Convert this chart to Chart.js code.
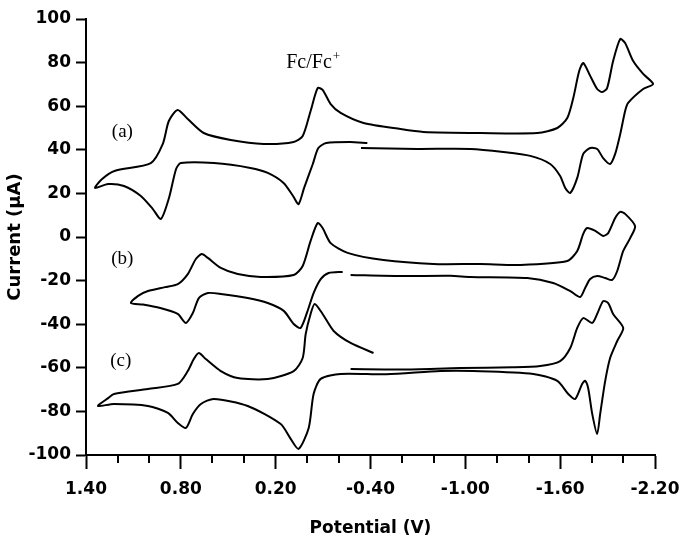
<!DOCTYPE html>
<html lang="en">
<head>
  <meta charset="UTF-8" />
  <title>Cyclic voltammograms</title>
  <script src="https://cdn.jsdelivr.net/npm/chart.js"></script>
  <style>
    html, body {
      margin: 0;
      padding: 0;
      background: #ffffff;
    }
  </style>
</head>
<body>
  <canvas id="cvChart" width="681" height="543"></canvas>

  <script>
    // curve (a): potential (V) and current (uA), in scan order
    const aPotential = [-0.38, -0.27, -0.12, -0.07, -0.035, 0.02, 0.055, 0.09, 0.15, 0.25, 0.36, 0.59, 0.80, 0.83, 0.875, 0.926, 0.977, 1.053, 1.16, 1.26, 1.343,
      1.30, 1.22, 0.99, 0.914, 0.876, 0.82, 0.756, 0.655, 0.484, 0.276, 0.086, 0.029, -0.021, -0.066, -0.097, -0.148, -0.211, -0.356, -0.59, -0.735, -1.095, -1.455, -1.582, -1.645, -1.683, -1.72, -1.746, -1.79, -1.834, -1.866, -1.897, -1.935, -1.98, -2.011, -2.062, -2.125, -2.188,
      -2.125, -2.03, -2.011, -1.98, -1.948, -1.916, -1.872, -1.834, -1.79, -1.746, -1.708, -1.664, -1.632, -1.6, -1.537, -1.411, -1.24, -1.032, -0.697, -0.34];
    const aCurrent = [43.1, 43.6, 43.1, 40.8, 33.5, 22.5, 15.1, 18.8, 24.8, 29.4, 31.7, 33.9, 33.9, 31.2, 17.9, 8.3, 12.8, 18.8, 23.4, 24.3, 22.5,
      26.5, 30.3, 33.9, 42.7, 53.2, 58.3, 54.1, 47.7, 44.5, 42.7, 43.6, 46.3, 57.8, 68.3, 67.5, 61, 56.9, 52.3, 49.5, 48.2, 47.7, 47.7, 50, 54.6, 63.8, 76, 79.8, 73.9, 67.9, 66.5, 68.3, 80.7, 90.8, 89, 80.7, 74.8, 70.2,
      67.9, 61.5, 57.8, 47.2, 38.1, 33.5, 36.2, 40.4, 40.8, 38.1, 27.1, 20.2, 22.5, 28, 33.5, 37.2, 39, 40.4, 40.4, 40.8];

    // curve (b)
    const bPotential = [-0.224, -0.135, -0.085, -0.04, -0.002, 0.042, 0.086, 0.149, 0.25, 0.377, 0.547, 0.629, 0.686, 0.724, 0.768, 0.82, 0.93, 1.04, 1.116,
      1.07, 1.008, 0.90, 0.819, 0.756, 0.705, 0.667, 0.629, 0.547, 0.44, 0.295, 0.086, 0.029, -0.021, -0.066, -0.097, -0.148, -0.255, -0.482, -0.798, -1.095, -1.348, -1.645, -1.708, -1.746, -1.771, -1.822, -1.872, -1.904, -1.948, -1.98, -2.011, -2.074,
      -2.043, -1.999, -1.961, -1.929, -1.885, -1.834, -1.79, -1.758, -1.727, -1.664, -1.556, -1.392, -1.032, -0.906, -0.59, -0.274];
    const bCurrent = [-16, -16.5, -19.3, -25.7, -33.9, -41.7, -39.9, -33.9, -30.3, -28, -26.1, -25.7, -28, -34.9, -39.4, -35.3, -32.6, -31, -30.3,
      -27, -24.8, -23, -21.6, -17, -10.1, -7.8, -9.6, -14.2, -17, -18.3, -17.4, -13.3, -1.8, 6.4, 4.1, -2.8, -7.3, -10.6, -12.4, -12.4, -12.8, -11, -6.4, 1.4, 4.1, 2.8, 0.5, 1.8, 8.7, 11.5, 10.6, 5,
      -0.5, -6.4, -15.6, -19.7, -18.8, -17.9, -19.3, -23.4, -27.5, -24.8, -21.1, -18.8, -18.3, -17.8, -17.9, -17.4];

    // curve (c)
    const cPotential = [-0.274, -0.6, -0.969, -1.3, -1.474, -1.6, -1.664, -1.708, -1.746, -1.803, -1.834, -1.872, -1.904, -1.935, -1.999,
      -1.961, -1.916, -1.885, -1.853, -1.834, -1.803, -1.777, -1.758, -1.739, -1.695, -1.651, -1.582, -1.43, -1.051, -0.843, -0.5, -0.211, -0.085, -0.04, -0.009, 0.055, 0.11, 0.168, 0.377, 0.591, 0.673, 0.724, 0.768, 0.819, 0.882, 1.008, 1.223, 1.324,
      1.26, 1.223, 1.008, 0.819, 0.756, 0.718, 0.686, 0.642, 0.547, 0.44, 0.25, 0.086, 0.029, 0.01, -0.021, -0.047, -0.097, -0.167, -0.274, -0.419];
    const cCurrent = [-60.6, -60.8, -60.1, -59.8, -59.2, -56.9, -50.9, -41.7, -37.2, -39.4, -35.3, -29.4, -30.3, -35.3, -41.7,
      -47.7, -55.5, -66, -81.2, -90.4, -81.2, -69.3, -66, -67.4, -74.3, -72, -66, -62.8, -61.5, -61.5, -63, -62.8, -65.1, -72, -87.6, -97.2, -92, -85.8, -77.5, -74.3, -76.6, -81.2, -87.6, -85.3, -80.7, -77.5, -76.6, -77.5,
      -73.9, -72, -69.7, -67.4, -61.5, -56, -53.2, -56, -61.5, -64.7, -65.1, -61.5, -55.5, -44.5, -35.3, -30.7, -35.3, -43.1, -48.6, -53.2];

    const xTickLabels = [1.40, 0.80, 0.20, -0.40, -1.00, -1.60, -2.20];

    const curveNames = ['(a)', '(b)', '(c)'];
    const curveNamePotential = [1.17, 1.17, 1.18];
    const curveNameCurrent = [48, -10, -57];

    const toPoints = (xs, ys) => xs.map((x, i) => ({ x, y: ys[i] }));
    const isMajor = v => xTickLabels.some(t => Math.abs(t - v) < 1e-6);

    // minor ticks on the x axis and the text labels
    const extras = {
      id: 'extras',
      afterDraw(chart) {
        const ctx = chart.ctx;
        const xs = chart.scales.x;
        const ys = chart.scales.y;
        ctx.save();
        ctx.strokeStyle = '#000';
        ctx.lineWidth = 2;
        xs.ticks.forEach(t => {
          if (isMajor(t.value)) return;
          const px = Math.round(xs.getPixelForValue(t.value));
          ctx.beginPath();
          ctx.moveTo(px, xs.top);
          ctx.lineTo(px, xs.top + 8);
          ctx.stroke();
        });

        ctx.fillStyle = '#000';
        ctx.font = '19px "Liberation Serif", "Times New Roman", serif';
        ctx.textAlign = 'center';
        ctx.textBaseline = 'middle';
        curveNames.forEach((name, i) => {
          ctx.fillText(name, xs.getPixelForValue(curveNamePotential[i]), ys.getPixelForValue(curveNameCurrent[i]));
        });

        // Fc/Fc+ marker
        const fcX = xs.getPixelForValue(-0.034);
        const fcY = ys.getPixelForValue(79.8);
        ctx.font = '20px "Liberation Serif", "Times New Roman", serif';
        const w = ctx.measureText('Fc/Fc').width;
        ctx.font = '13px "Liberation Serif", "Times New Roman", serif';
        const wp = ctx.measureText('+').width;
        const start = fcX - (w + wp) / 2;
        ctx.textAlign = 'left';
        ctx.font = '20px "Liberation Serif", "Times New Roman", serif';
        ctx.fillText('Fc/Fc', start, fcY);
        ctx.font = '13px "Liberation Serif", "Times New Roman", serif';
        ctx.fillText('+', start + w + 1, fcY - 6);
        ctx.restore();
      }
    };

    const lineStyle = {
      borderColor: '#000',
      borderWidth: 2,
      pointRadius: 0,
      tension: 0.25,
      fill: false
    };

    new Chart(document.getElementById('cvChart'), {
      type: 'line',
      data: {
        datasets: [
          { label: '(a)', data: toPoints(aPotential, aCurrent), ...lineStyle },
          { label: '(b)', data: toPoints(bPotential, bCurrent), ...lineStyle },
          { label: '(c)', data: toPoints(cPotential, cCurrent), ...lineStyle }
        ]
      },
      options: {
        responsive: false,
        animation: false,
        layout: { padding: { top: 19, right: 26, left: 0, bottom: 0 } },
        plugins: {
          legend: { display: false },
          tooltip: { enabled: false }
        },
        scales: {
          x: {
            type: 'linear',
            reverse: true,
            min: -2.2,
            max: 1.4,
            afterFit: s => {
              s.height = 88;
              s.paddingLeft = 0;
              s.paddingRight = 0;
            },
            border: { display: true, color: '#000', width: 2 },
            grid: {
              drawOnChartArea: false,
              tickLength: 14,
              tickWidth: 2,
              tickColor: c => (c.tick && isMajor(c.tick.value)) ? '#000' : 'rgba(0,0,0,0)'
            },
            ticks: {
              stepSize: 0.2,
              autoSkip: false,
              maxRotation: 0,
              padding: 10,
              color: '#000',
              font: { family: '"DejaVu Sans", sans-serif', weight: 'bold', size: 17 },
              callback: v => isMajor(v) ? v.toFixed(2) : ''
            },
            title: {
              display: true,
              text: 'Potential (V)',
              color: '#000',
              font: { family: '"DejaVu Sans", sans-serif', weight: 'bold', size: 17 },
              padding: { top: 0, bottom: 4 }
            }
          },
          y: {
            min: -100,
            max: 100,
            afterFit: s => { s.width = 86; },
            border: { display: true, color: '#000', width: 2 },
            grid: {
              drawOnChartArea: false,
              tickLength: 10,
              tickWidth: 2,
              tickColor: '#000'
            },
            ticks: {
              stepSize: 20,
              padding: 5,
              color: '#000',
              font: { family: '"DejaVu Sans", sans-serif', weight: 'bold', size: 17 }
            },
            title: {
              display: true,
              text: 'Current (µA)',
              color: '#000',
              font: { family: '"DejaVu Sans", sans-serif', weight: 'bold', size: 18 },
              padding: { top: 5, bottom: 0 }
            }
          }
        }
      },
      plugins: [extras]
    });
  </script>
</body>
</html>
